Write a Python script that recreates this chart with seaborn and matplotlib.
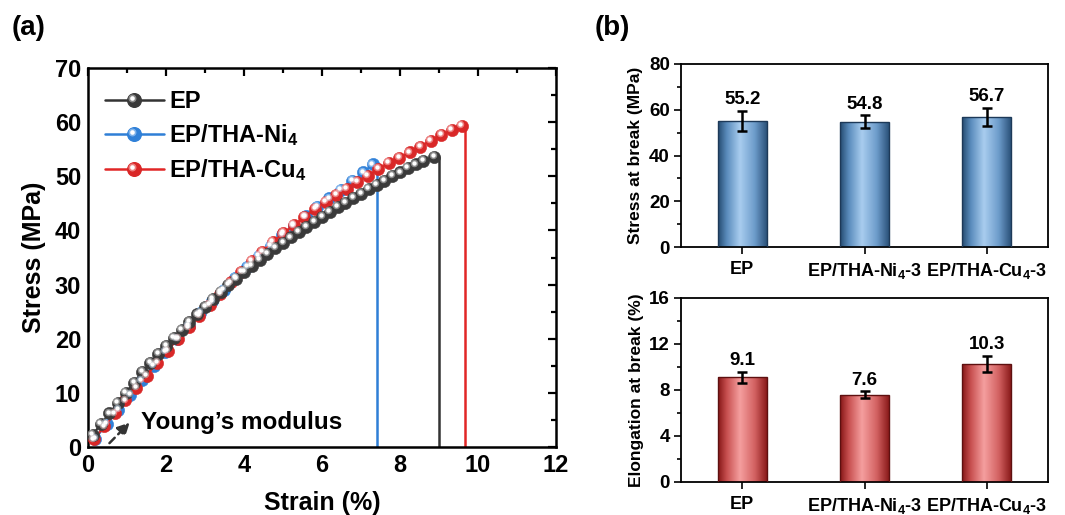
import numpy as np
import matplotlib
matplotlib.use("Agg")
import matplotlib.pyplot as plt
import seaborn as sns
from matplotlib.lines import Line2D
from matplotlib.legend_handler import HandlerLine2D
from matplotlib.colors import LinearSegmentedColormap
from matplotlib.ticker import MultipleLocator
from matplotlib.transforms import ScaledTranslation

# ---------------- data ----------------
ep_strain = [0.12, 0.33, 0.55, 0.76, 0.97, 1.18, 1.39, 1.6, 1.8, 2.0, 2.2, 2.4, 2.6, 2.8, 3.0,
             3.2, 3.4, 3.6, 3.8, 4.0, 4.2, 4.4, 4.6, 4.8, 5.0, 5.2, 5.4, 5.6, 5.8, 6.0, 6.2,
             6.4, 6.6, 6.8, 7.0, 7.2, 7.4, 7.6, 7.8, 8.0, 8.2, 8.4, 8.6, 8.88]
ep_stress = [2.3, 4.2, 6.2, 8.1, 10.0, 11.9, 13.8, 15.6, 17.2, 18.7, 20.2, 21.7, 23.1, 24.5, 25.9,
             27.3, 28.6, 29.9, 31.1, 32.3, 33.4, 34.5, 35.6, 36.7, 37.7, 38.7, 39.7, 40.6, 41.5,
             42.5, 43.4, 44.3, 45.1, 46.0, 46.8, 47.6, 48.4, 49.2, 50.0, 50.7, 51.5, 52.2, 52.9, 53.6]

ni_strain = [0.18, 0.48, 0.78, 1.08, 1.38, 1.68, 1.98, 2.28, 2.58, 2.88, 3.18, 3.48, 3.78, 4.08,
             4.38, 4.68, 4.98, 5.28, 5.58, 5.88, 6.18, 6.48, 6.78, 7.06, 7.3]
ni_stress = [1.5, 4.2, 6.9, 9.6, 12.3, 14.9, 17.5, 20.0, 22.4, 24.7, 26.9, 29.0, 31.2, 33.3,
             35.3, 37.2, 39.1, 40.9, 42.6, 44.3, 45.9, 47.5, 49.1, 50.7, 52.2]

cu_strain = [0.15, 0.42, 0.69, 0.96, 1.23, 1.5, 1.77, 2.04, 2.31, 2.58, 2.85, 3.12, 3.39, 3.66,
             3.93, 4.2, 4.47, 4.74, 5.01, 5.28, 5.55, 5.82, 6.09, 6.36, 6.63, 6.9, 7.17, 7.44,
             7.71, 7.98, 8.25, 8.52, 8.79, 9.06, 9.33, 9.58]
cu_stress = [1.4, 3.8, 6.2, 8.6, 10.9, 13.2, 15.5, 17.8, 20.0, 22.1, 24.2, 26.3, 28.3, 30.4,
             32.4, 34.3, 36.1, 37.9, 39.5, 41.0, 42.5, 43.9, 45.3, 46.5, 47.7, 48.9, 50.1, 51.3,
             52.4, 53.4, 54.4, 55.5, 56.6, 57.6, 58.5, 59.3]

series_names = ["EP", "EP/THA-Ni$_4$", "EP/THA-Cu$_4$"]
break_strain = [9.0, 7.42, 9.67]

bar_categories = ["EP", "EP/THA-Ni$_4$-3", "EP/THA-Cu$_4$-3"]
stress_at_break = [55.2, 54.8, 56.7]
stress_err = [4.4, 2.7, 4.0]
elong_at_break = [9.1, 7.6, 10.3]
elong_err = [0.47, 0.28, 0.7]

# ---------------- style ----------------
sns.set_theme(style="white")
plt.rcParams["font.family"] = ["Liberation Sans", "DejaVu Sans"]
plt.rcParams["font.weight"] = "bold"
plt.rcParams["axes.labelweight"] = "bold"
plt.rcParams["mathtext.fontset"] = "custom"
plt.rcParams["mathtext.rm"] = "Liberation Sans:bold"
plt.rcParams["mathtext.it"] = "Liberation Sans:bold"
plt.rcParams["mathtext.bf"] = "Liberation Sans:bold"
plt.rcParams["mathtext.default"] = "rm"
plt.rcParams["text.color"] = "black"
plt.rcParams["axes.labelcolor"] = "black"
plt.rcParams["xtick.color"] = "black"
plt.rcParams["ytick.color"] = "black"
plt.rcParams["legend.numpoints"] = 1

W, H = 1065, 515
fig = plt.figure(figsize=(W / 100, H / 100), dpi=100)

def fig_rect(l, t, r, b):
    return [l / W, 1 - b / H, (r - l) / W, (b - t) / H]

ax1 = fig.add_axes(fig_rect(88, 68, 556, 447))
ax2 = fig.add_axes(fig_rect(681, 64, 1048, 247))
ax3 = fig.add_axes(fig_rect(681, 298, 1048, 482))

# ---------------- panel (a) ----------------
line_colors = ["#333333", "#2f7fd6", "#e12626"]
face_colors = ["#3a3a3a", "#2f80d8", "#d92727"]
hl_colors = ["#d9d9d9", "#cfe6ff", "#ffd6d6"]
D = 8.8                      # marker diameter (pt)
HL = D * 0.36                # highlight diameter (pt)
hl_shift = ScaledTranslation(-0.12 * D / 72, 0.15 * D / 72, fig.dpi_scale_trans)

strains = [ep_strain, ni_strain, cu_strain]
stresses = [ep_stress, ni_stress, cu_stress]
draw_order = [1, 2, 0]
for i in draw_order:
    xs, ys = strains[i], stresses[i]
    sns.lineplot(x=[xs[-1], break_strain[i], break_strain[i]], y=[ys[-1], ys[-1], 0],
                 ax=ax1, color=line_colors[i], lw=1.8, estimator=None, sort=False, zorder=2)
    sns.lineplot(x=xs, y=ys, ax=ax1, color=line_colors[i], lw=1.5, marker="o",
                 markersize=D, markerfacecolor=face_colors[i], markeredgecolor=face_colors[i],
                 markeredgewidth=0.4, estimator=None, sort=False, zorder=3)
    ax1.plot(xs, ys, ls="none", marker="o", markersize=HL * 1.7,
             markerfacecolor=hl_colors[i], markeredgewidth=0, alpha=0.5, zorder=3.1,
             transform=ax1.transData + hl_shift)
    ax1.plot(xs, ys, ls="none", marker="o", markersize=HL,
             markerfacecolor="white", markeredgewidth=0, zorder=3.2,
             transform=ax1.transData + hl_shift)


class SphereHandler(HandlerLine2D):
    def __init__(self, hlcolor, **kw):
        super().__init__(**kw)
        self.hlcolor = hlcolor

    def create_artists(self, legend, orig_handle, xdescent, ydescent, width, height,
                       fontsize, trans):
        arts = super().create_artists(legend, orig_handle, xdescent, ydescent, width,
                                      height, fontsize, trans)
        ln = arts[0]
        xd, yd = np.asarray(ln.get_xdata()), np.asarray(ln.get_ydata())
        cx, cy = 0.5 * (xd[0] + xd[-1]), yd[0]
        shift = ScaledTranslation(-0.12 * (D + 1) / 72, 0.15 * (D + 1) / 72,
                                  legend.figure.dpi_scale_trans)
        halo = Line2D([cx], [cy], ls="none", marker="o", markersize=HL * 1.8,
                      markerfacecolor=self.hlcolor, markeredgewidth=0, alpha=0.5)
        halo.set_transform(trans + shift)
        dot = Line2D([cx], [cy], ls="none", marker="o", markersize=HL * 1.05,
                     markerfacecolor="white", markeredgewidth=0)
        dot.set_transform(trans + shift)
        return arts + [halo, dot]


handles = []
hmap = {}
for i in range(3):
    h = Line2D([], [], color=line_colors[i], lw=1.8, marker="o", markersize=D + 1,
               markerfacecolor=face_colors[i], markeredgecolor=face_colors[i])
    handles.append(h)
    hmap[h] = SphereHandler(hl_colors[i])
ax1.legend(handles, series_names, handler_map=hmap,
           loc="upper left", bbox_to_anchor=(0.0, 0.985), frameon=False,
           handlelength=2.5, handletextpad=0.25, labelspacing=0.38,
           borderaxespad=0.3, prop={"weight": "bold", "size": 17})

ax1.annotate("", xy=(1.12, 4.9), xytext=(0.5, 0.35),
             arrowprops=dict(arrowstyle="-|>,head_length=0.6,head_width=0.3",
                             color="#333333", lw=1.8, ls=(0, (3, 2))))
ax1.text(1.35, 4.6, "Young\u2019s modulus", fontsize=17.5, fontweight="bold",
         va="center", ha="left")

ax1.set_xlim(0, 12)
ax1.set_ylim(0, 70)
ax1.xaxis.set_major_locator(MultipleLocator(2))
ax1.xaxis.set_minor_locator(MultipleLocator(1))
ax1.yaxis.set_major_locator(MultipleLocator(10))
ax1.yaxis.set_minor_locator(MultipleLocator(5))
ax1.tick_params(which="both", direction="in", top=True, right=True, width=1.6,
                labelsize=17, pad=5)
ax1.tick_params(which="major", length=6)
ax1.tick_params(which="minor", length=3.5)
for lab in ax1.get_xticklabels() + ax1.get_yticklabels():
    lab.set_fontweight("bold")
for s in ax1.spines.values():
    s.set_linewidth(1.8)
    s.set_color("black")
ax1.set_xlabel("Strain (%)", fontsize=18, fontweight="bold", labelpad=10)
ax1.set_ylabel("Stress (MPa)", fontsize=18, fontweight="bold", labelpad=6)

# ---------------- panel (b) ----------------
blue_cmap = LinearSegmentedColormap.from_list(
    "bluebar", [(0, "#244a70"), (0.18, "#5a8cbc"), (0.45, "#a9cdef"), (0.75, "#6d9ccb"), (1, "#2b527a")])
red_cmap = LinearSegmentedColormap.from_list(
    "redbar", [(0, "#851616"), (0.18, "#c85050"), (0.45, "#f59f9f"), (0.75, "#d36262"), (1, "#8a1a1a")])

def bar_panel(ax, vals, errs, cmap, edge, ylim, major, minor, ylabel):
    sns.barplot(x=bar_categories, y=vals, ax=ax, width=0.4, color="white",
                edgecolor=edge, linewidth=1.0, errorbar=None, zorder=2)
    grad = np.linspace(0, 1, 256).reshape(1, -1)
    for p in ax.patches:
        x0, w, h = p.get_x(), p.get_width(), p.get_height()
        im = ax.imshow(grad, cmap=cmap, extent=[x0, x0 + w, 0, h], aspect="auto",
                       zorder=2.5, interpolation="bicubic")
        im.set_clip_path(p)
        p.set_facecolor("none")
        p.set_zorder(3)
    ax.errorbar(range(len(vals)), vals, yerr=errs, fmt="none", ecolor="black",
                elinewidth=1.8, capsize=3.5, capthick=1.8, zorder=5)
    for i, (v, e) in enumerate(zip(vals, errs)):
        ax.annotate(f"{v:.1f}", xy=(i, v + e), xytext=(0, 2), textcoords="offset points",
                    ha="center", va="bottom", fontsize=13.5, fontweight="bold")
    ax.set_xlim(-0.5, 2.5)
    ax.set_ylim(*ylim)
    ax.yaxis.set_major_locator(MultipleLocator(major))
    ax.yaxis.set_minor_locator(MultipleLocator(minor))
    ax.tick_params(which="both", direction="out", width=1.2, labelsize=13.5, left=True,
                   bottom=True, pad=3)
    ax.tick_params(which="major", length=5)
    ax.tick_params(which="minor", length=3)
    ax.tick_params(axis="x", which="minor", bottom=False)
    ax.tick_params(axis="x", labelsize=13, pad=5)
    for lab in ax.get_xticklabels() + ax.get_yticklabels():
        lab.set_fontweight("bold")
    for s in ax.spines.values():
        s.set_linewidth(1.3)
        s.set_color("black")
        s.set_visible(True)
    ax.set_ylabel(ylabel, fontsize=12.5, fontweight="bold", labelpad=4)
    ax.set_xlabel("")

bar_panel(ax2, stress_at_break, stress_err, blue_cmap, "#1d3958", (0, 80), 20, 10,
          "Stress at break (MPa)")
bar_panel(ax3, elong_at_break, elong_err, red_cmap, "#5e1010", (0, 16), 4, 2,
          "Elongation at break (%)")

fig.text(12 / W, 1 - 28 / H, "(a)", fontsize=20, fontweight="bold", va="center", ha="left")
fig.text(595 / W, 1 - 28 / H, "(b)", fontsize=20, fontweight="bold", va="center", ha="left")

fig.savefig("out.png", dpi=100)
